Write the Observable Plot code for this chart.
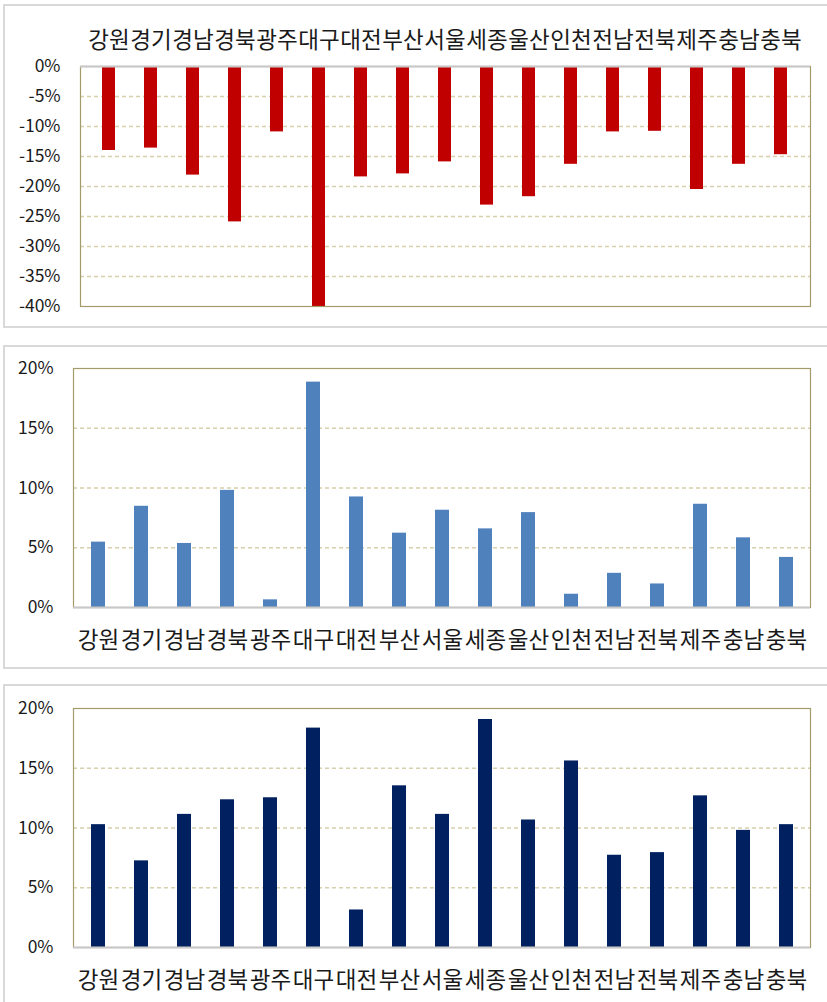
<!DOCTYPE html>
<html>
<head>
<meta charset="utf-8">
<script src="https://cdn.jsdelivr.net/npm/d3@7"></script>
<script src="https://cdn.jsdelivr.net/npm/@observablehq/plot@0.6"></script>
<style>
  html, body { margin: 0; padding: 0; width: 827px; height: 1002px; overflow: hidden; background: #fff; }
  .box { position: absolute; border: 2px solid #d9d9d9; box-sizing: border-box; }
  .chart { position: absolute; left: 0; }
  svg { font-family: "Noto Sans CJK KR", "Noto Sans", sans-serif; }
</style>
</head>
<body>
<div class="box" style="left:3px; top:4px; width:840px; height:324px;"></div>
<div class="box" style="left:3px; top:345px; width:840px; height:324px;"></div>
<div class="box" style="left:3px; top:684px; width:840px; height:340px;"></div>
<div id="c1" class="chart" style="top:0px;"></div>
<div id="c2" class="chart" style="top:340px;"></div>
<div id="c3" class="chart" style="top:680px;"></div>
<script>
const regions = ["강원","경기","경남","경북","광주","대구","대전","부산","서울","세종","울산","인천","전남","전북","제주","충남","충북"];
const series1 = [-14.0,-13.6,-18.1,-25.9,-10.9,-40.0,-18.4,-17.9,-15.9,-23.1,-21.7,-16.3,-10.9,-10.8,-20.5,-16.3,-14.7];
const series2 = [5.47,8.47,5.36,9.8,0.64,18.86,9.25,6.22,8.14,6.58,7.94,1.11,2.86,1.97,8.64,5.83,4.19];
const series3 = [10.28,7.25,11.14,12.36,12.53,18.36,3.14,13.53,11.14,19.08,10.67,15.61,7.72,7.94,12.69,9.8,10.28];
const ticks1 = [0,-5,-10,-15,-20,-25,-30,-35,-40];
const ticks23 = [0,5,10,15,20];
const colors = ["#C00000", "#4F81BD", "#002060"];

function makeChart(values, color, yDomain, ticks, opts) {
  const data = regions.map((r, i) => ({region: r, value: values[i]}));
  const grid = ticks.filter(t => t !== yDomain[0] && t !== yDomain[1] && t !== 0);
  return Plot.plot({
    width: 827,
    height: opts.height,
    marginLeft: opts.marginLeft,
    marginRight: 17,
    marginTop: opts.marginTop,
    marginBottom: opts.marginBottom,
    style: {fontSize: "17px", color: "#1a1a1a", background: "transparent", overflow: "visible"},
    x: {domain: regions, paddingInner: 0.68, paddingOuter: 0.34},
    y: {domain: yDomain},
    marks: [
      Plot.ruleY(grid, {stroke: "#d6d0ab", strokeWidth: 1.5, strokeDasharray: "4,3"}),
      Plot.barY(data, {x: "region", y: "value", fill: color}),
      Plot.frame({stroke: "#a39c6a", strokeWidth: 1.2}),
      Plot.ruleY([0], {stroke: "#c8c8c8", strokeWidth: 2}),
      Plot.axisY({ticks: ticks, tickSize: 0, tickPadding: 20, tickFormat: d => `${d}%`, label: null, fontSize: "17.5px"}),
      Plot.axisX({anchor: opts.xAnchor, tickSize: 0, tickPadding: opts.xPad, label: null, fontSize: "22.5px"})
    ]
  });
}

document.getElementById("c1").append(makeChart(series1, colors[0], [-40, 0], ticks1,
  {height: 330, marginLeft: 80, marginTop: 66, marginBottom: 24, xAnchor: "top", xPad: 19}));
document.getElementById("c2").append(makeChart(series2, colors[1], [0, 20], ticks23,
  {height: 330, marginLeft: 73, marginTop: 28, marginBottom: 63, xAnchor: "bottom", xPad: 25}));
document.getElementById("c3").append(makeChart(series3, colors[2], [0, 20], ticks23,
  {height: 322, marginLeft: 73, marginTop: 28, marginBottom: 55, xAnchor: "bottom", xPad: 25}));
</script>
</body>
</html>
